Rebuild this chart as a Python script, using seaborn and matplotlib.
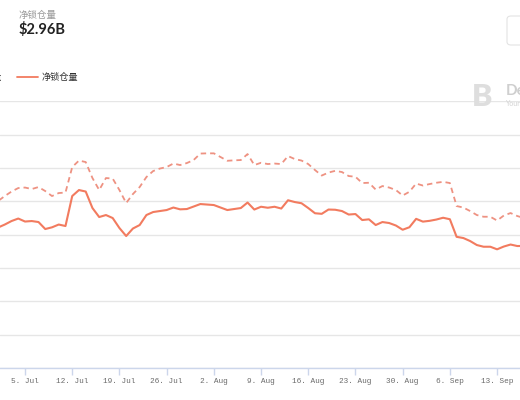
import matplotlib
matplotlib.use("Agg")
import matplotlib.pyplot as plt
import matplotlib.dates as mdates
from matplotlib.lines import Line2D
from matplotlib.patches import FancyBboxPatch
import seaborn as sns
import pandas as pd
import numpy as np

# ---- data (values in billions USD, daily from 1 Jul) ----
start_date = "2021-07-01"
net_locked = [3.372, 3.444, 3.528, 3.588, 3.516, 3.528, 3.504, 3.336, 3.377, 3.444,
              3.408, 4.128, 4.272, 4.236, 3.84, 3.624, 3.672, 3.6, 3.36, 3.168,
              3.348, 3.432, 3.672, 3.744, 3.768, 3.792, 3.852, 3.809, 3.816, 3.876,
              3.936, 3.924, 3.912, 3.852, 3.792, 3.816, 3.84, 3.972, 3.804, 3.871,
              3.847, 3.871, 3.828, 4.027, 3.984, 3.955, 3.84, 3.715, 3.701, 3.804,
              3.799, 3.768, 3.684, 3.696, 3.552, 3.569, 3.432, 3.504, 3.48, 3.42,
              3.319, 3.379, 3.581, 3.514, 3.533, 3.564, 3.607, 3.571, 3.149, 3.12,
              3.048, 2.952, 2.911, 2.911, 2.849, 2.916, 2.964, 2.928, 2.93]
total_locked = [4.008, 4.128, 4.236, 4.32, 4.332, 4.296, 4.344, 4.248, 4.128, 4.2,
                4.212, 4.824, 4.98, 4.944, 4.56, 4.272, 4.56, 4.548, 4.272, 3.96,
                4.176, 4.344, 4.584, 4.728, 4.788, 4.824, 4.908, 4.872, 4.92, 4.992,
                5.148, 5.153, 5.153, 5.064, 4.975, 4.985, 4.992, 5.136, 4.872, 4.927,
                4.896, 4.908, 4.896, 5.088, 5.016, 4.98, 4.896, 4.752, 4.62, 4.692,
                4.733, 4.704, 4.608, 4.591, 4.44, 4.447, 4.284, 4.368, 4.332, 4.272,
                4.14, 4.231, 4.428, 4.38, 4.416, 4.447, 4.469, 4.44, 3.888, 3.852,
                3.768, 3.672, 3.631, 3.631, 3.54, 3.66, 3.72, 3.648, 3.6]
tick_dates = ["2021-07-05", "2021-07-12", "2021-07-19", "2021-07-26", "2021-08-02",
              "2021-08-09", "2021-08-16", "2021-08-23", "2021-08-30", "2021-09-06",
              "2021-09-13"]
tick_labels = ["5. Jul", "12. Jul", "19. Jul", "26. Jul", "2. Aug", "9. Aug",
               "16. Aug", "23. Aug", "30. Aug", "6. Sep", "13. Sep"]
y_ticks = [0, 0.8, 1.6, 2.4, 3.2, 4.0, 4.8, 5.6, 6.4]

dates = pd.date_range(start_date, periods=len(net_locked), freq="D")
df = pd.DataFrame({"date": dates, "net": net_locked, "total": total_locked})

sns.set_theme(style="white")
plt.rcParams["font.family"] = ["Noto Sans CJK SC", "DejaVu Sans"]

W, H = 520, 400
fig = plt.figure(figsize=(5.2, 4.0), dpi=100)
ax = fig.add_axes([0, (H - 368) / H, 1, (368 - 101.4) / H])

c_solid = "#F27B5F"
c_dash = "#EE9282"
sns.lineplot(data=df, x="date", y="total", ax=ax, color=c_dash, lw=1.3,
             linestyle=(0, (3, 2.2)))
sns.lineplot(data=df, x="date", y="net", ax=ax, color=c_solid, lw=1.5)

x0 = pd.Timestamp(start_date) + pd.Timedelta(days=0.29)
x1 = pd.Timestamp(start_date) + pd.Timedelta(days=77.4)
ax.set_xlim(x0, x1)
ax.set_ylim(y_ticks[0], y_ticks[-1])
ax.set_yticks(y_ticks)
ax.set_yticklabels([])
ax.grid(axis="y", color="#e6e6e6", lw=1)
ax.grid(axis="x", visible=False)
ax.set_xlabel("")
ax.set_ylabel("")
for s in ["top", "left", "right"]:
    ax.spines[s].set_visible(False)
ax.spines["bottom"].set_color("#ccd6eb")
ax.spines["bottom"].set_linewidth(1)

ax.set_xticks([mdates.date2num(pd.Timestamp(d)) for d in tick_dates])
ax.set_xticklabels(tick_labels, family=["Liberation Mono", "DejaVu Sans Mono"],
                   fontsize=5.6, color="#6a6a6a")
ax.tick_params(axis="x", length=5, width=1, color="#ccd6eb", pad=2.5,
               bottom=True)
ax.tick_params(axis="y", length=0)

# header
fig.text(19 / W, 1 - 15 / H, "净锁仓量", fontsize=6.8, color="#9a9a9a",
         va="center", ha="left")
fig.text(19 / W, 1 - 29.5 / H, "$2.96B", fontsize=10.5, color="#222222",
         va="center", ha="left", family=["Lato", "DejaVu Sans"], weight="bold")

# legend
fig.add_artist(Line2D([17 / W, 38 / W], [1 - 77 / H, 1 - 77 / H],
                      color=c_solid, lw=1.3))
fig.text(42 / W, 1 - 77 / H, "净锁仓量", fontsize=6.6, color="#333333",
         va="center", ha="left")
fig.text(2.5 / W, 1 - 77 / H, "锁仓量", fontsize=6.6, color="#333333",
         va="center", ha="right")

# watermark
fig.text(472 / W, 1 - 97 / H, "B", fontsize=22, color="#dedede",
         va="center", ha="left", weight="heavy",
         family=["Lato", "DejaVu Sans"])
fig.text(506 / W, 1 - 91 / H, "De", fontsize=11, color="#cfcfcf",
         va="center", ha="left", weight="bold", family=["Lato", "DejaVu Sans"])
fig.text(506 / W, 1 - 104 / H, "Your", fontsize=5, color="#d3d3d3",
         va="center", ha="left", family=["Lato", "DejaVu Sans"])

# partial button top-right
fig.add_artist(FancyBboxPatch((507 / W, 1 - 45 / H), 30 / W, 29 / H,
                              boxstyle="round,pad=0,rounding_size=0.008",
                              transform=fig.transFigure, fc="none",
                              ec="#e3e3e3", lw=0.8))

fig.savefig("out.png", dpi=100)
